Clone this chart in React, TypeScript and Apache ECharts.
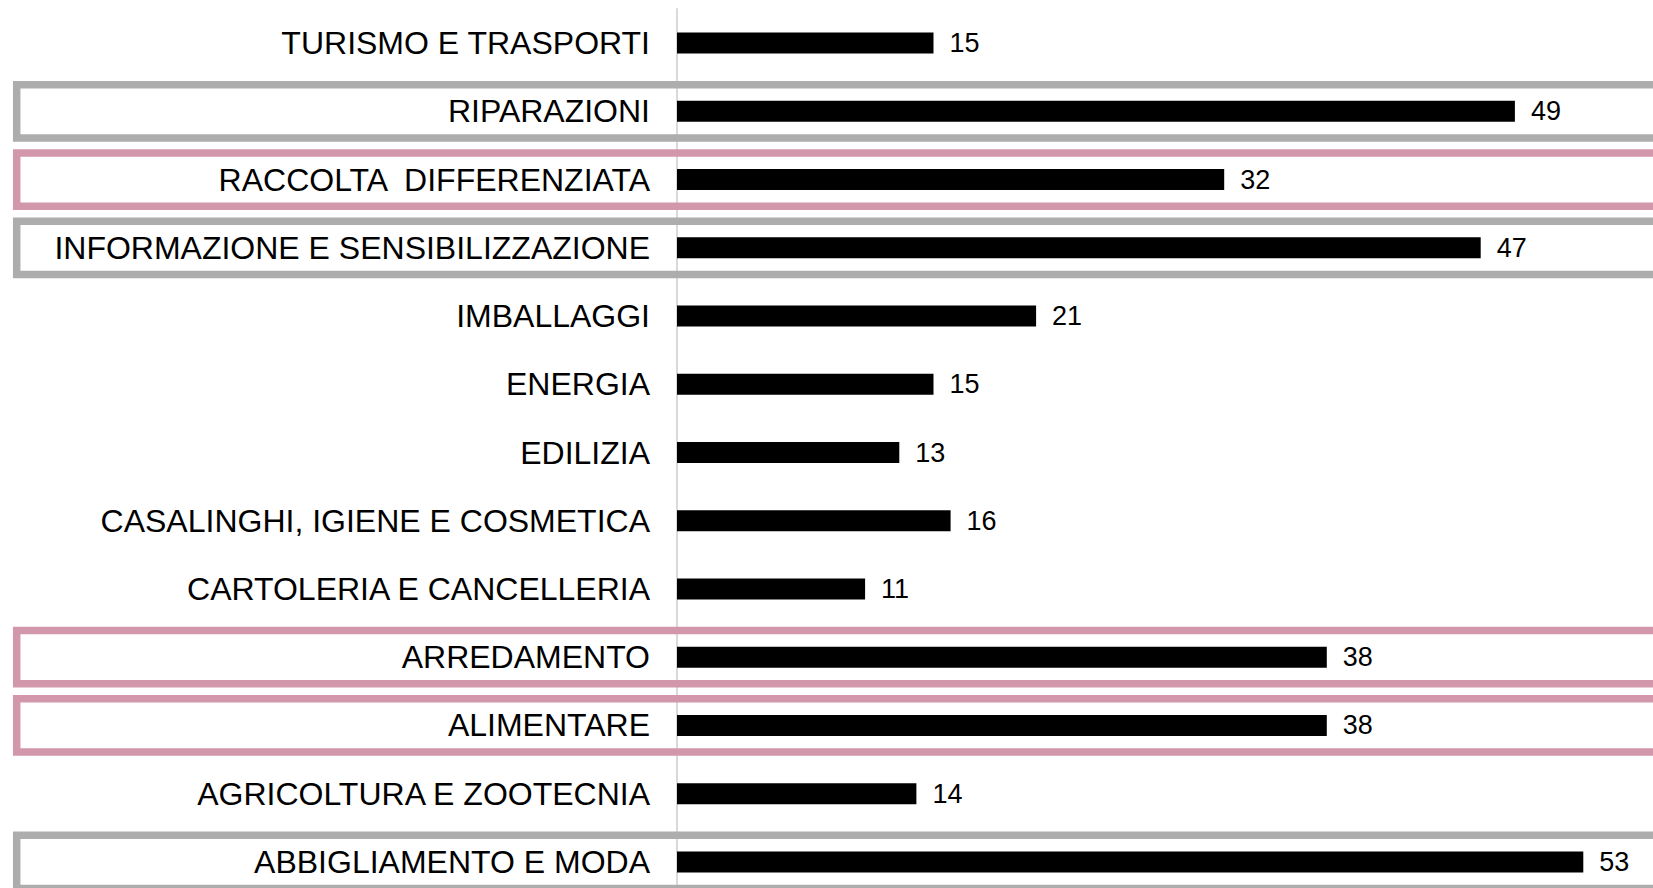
import React, { useEffect, useRef } from "react";
import * as echarts from "echarts";

const categories = [
  "TURISMO E TRASPORTI",
  "RIPARAZIONI",
  "RACCOLTA  DIFFERENZIATA",
  "INFORMAZIONE E SENSIBILIZZAZIONE",
  "IMBALLAGGI",
  "ENERGIA",
  "EDILIZIA",
  "CASALINGHI, IGIENE E COSMETICA",
  "CARTOLERIA E CANCELLERIA",
  "ARREDAMENTO",
  "ALIMENTARE",
  "AGRICOLTURA E ZOOTECNIA",
  "ABBIGLIAMENTO E MODA",
];

const values = [15, 49, 32, 47, 21, 15, 13, 16, 11, 38, 38, 14, 53];

// highlighted rows: category name and frame kind
const grayFramed = ["RIPARAZIONI", "INFORMAZIONE E SENSIBILIZZAZIONE", "ABBIGLIAMENTO E MODA"];
const pinkFramed = ["RACCOLTA  DIFFERENZIATA", "ARREDAMENTO", "ALIMENTARE"];

const FONT = "'Liberation Sans', Arial, Helvetica, sans-serif";
const GRAY = "#adadad";
const PINK = "#d397ab";

export default function App() {
  const ref = useRef<HTMLDivElement>(null);

  useEffect(() => {
    if (!ref.current) return;
    const chart = echarts.init(ref.current, undefined, { renderer: "svg" });

    const frameData = [
      ...grayFramed.map((c) => [0, categories.indexOf(c), 0]),
      ...pinkFramed.map((c) => [0, categories.indexOf(c), 1]),
    ];

    chart.setOption({
      animation: false,
      backgroundColor: "#ffffff",
      grid: {
        left: 677,
        top: 9,
        width: 1026,
        height: 887,
        containLabel: false,
        outerBoundsMode: "none",
      },
      xAxis: {
        type: "value",
        min: 0,
        max: 60,
        show: false,
      },
      yAxis: {
        type: "category",
        data: categories,
        inverse: true,
        axisLine: { show: true, lineStyle: { color: "#d9d9d9", width: 2 } },
        axisTick: { show: false },
        splitLine: { show: false },
        axisLabel: {
          color: "#000000",
          fontSize: 32,
          fontFamily: FONT,
          margin: 27,
        },
      },
      series: [
        {
          type: "custom",
          clip: false,
          silent: true,
          z: 1,
          data: frameData,
          encode: { x: 0, y: 1 },
          renderItem: (params: any, api: any) => {
            const c = api.coord([0, api.value(1)]);
            const band = api.size([0, 1])[1];
            const h = band * 0.78;
            const kind = api.value(2);
            return {
              type: "rect",
              shape: { x: 16.7, y: c[1] - h / 2, width: 1700, height: h },
              style: {
                fill: "none",
                stroke: kind === 0 ? GRAY : PINK,
                lineWidth: 7.5,
              },
            };
          },
        },
        {
          type: "bar",
          data: values,
          barWidth: 21,
          z: 2,
          itemStyle: { color: "#000000" },
          label: {
            show: true,
            position: "right",
            distance: 16,
            color: "#000000",
            fontSize: 27,
            fontFamily: FONT,
          },
        },
      ],
    });

    return () => chart.dispose();
  }, []);

  return (
    <div
      ref={ref}
      style={{ position: "fixed", left: 0, top: 0, width: 1653, height: 888, background: "#fff" }}
    />
  );
}
